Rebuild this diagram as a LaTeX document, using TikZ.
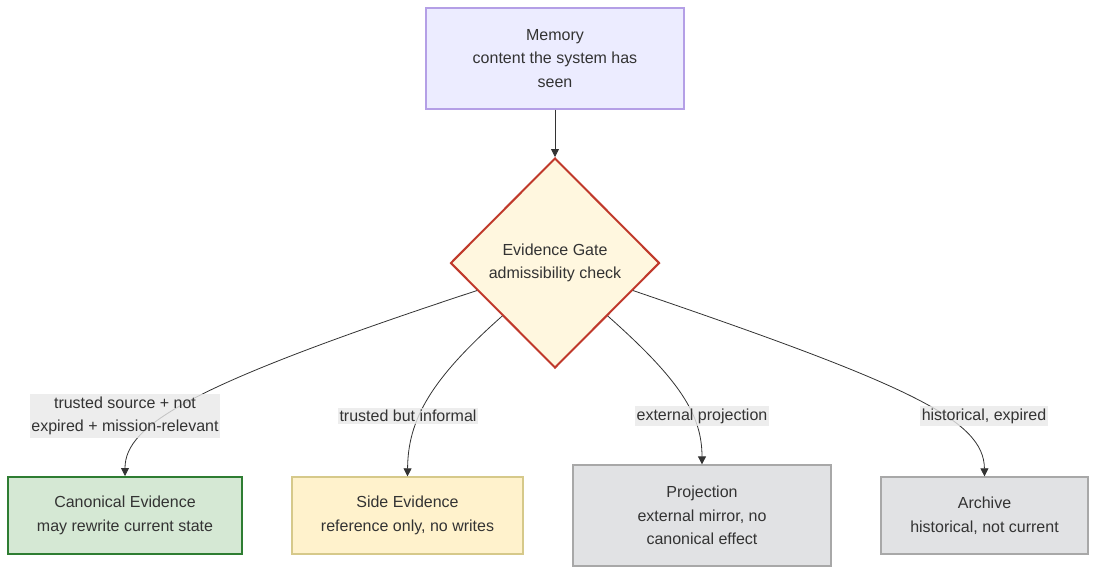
\documentclass[tikz,border=0pt]{standalone}
\usepackage{fontspec}
\setmainfont{Liberation Sans}
\usetikzlibrary{shapes.geometric,arrows.meta,calc}
\definecolor{txt}{HTML}{333333}
\definecolor{memfill}{HTML}{ECECFF}
\definecolor{memdraw}{HTML}{B49FE6}
\definecolor{gatefill}{HTML}{FFF7DF}
\definecolor{gatedraw}{HTML}{C0392B}
\definecolor{canfill}{HTML}{D5E8D4}
\definecolor{candraw}{HTML}{2E7D32}
\definecolor{sidefill}{HTML}{FFF2CC}
\definecolor{sidedraw}{HTML}{D6C98A}
\definecolor{greyfill}{HTML}{E1E2E4}
\definecolor{greydraw}{HTML}{A8A8A8}
\definecolor{lblfill}{HTML}{E8E8E8}
\tikzset{
  base/.style={font=\fontsize{16}{23.5}\selectfont, text=txt, align=center, inner sep=0pt},
  box/.style={base, rectangle, line width=1.3pt},
  gatestyle/.style={base, diamond, aspect=1, fill=gatefill, draw=gatedraw, line width=2pt, minimum width=209pt, minimum height=210pt},
  lbl/.style={base, fill=lblfill, fill opacity=0.8, text opacity=1, inner xsep=1.5pt, inner ysep=2.5pt},
  conn/.style={draw=txt, line width=0.8pt, -{Triangle[length=8pt,width=8pt]}},
}
\begin{document}
\begin{tikzpicture}[x=1pt,y=-1pt]
\useasboundingbox (0,0) rectangle (1104,579);
\node[box, fill=memfill, draw=memdraw, minimum width=258pt, minimum height=101pt] (mem) at (555,58.5) {Memory\\content the system has\\seen};
\node[gatestyle] (gate) at (555,263) {Evidence Gate\\admissibility check};
\node[box, fill=canfill, draw=candraw, line width=2pt, minimum width=234pt, minimum height=77pt] (can) at (125,515.5) {Canonical Evidence\\may rewrite current state};
\node[box, fill=sidefill, draw=sidedraw, minimum width=231pt, minimum height=77pt] (side) at (407.5,515.5) {Side Evidence\\reference only, no writes};
\node[box, fill=greyfill, draw=greydraw, minimum width=258pt, minimum height=101pt] (proj) at (702,515.5) {Projection\\external mirror, no\\ canonical effect};
\node[box, fill=greyfill, draw=greydraw, minimum width=207pt, minimum height=77pt] (arch) at (984.5,515.5) {Archive\\historical, not current};

\coordinate (g1) at ($(gate.west)!0.26!(gate.south)$);
\coordinate (g4) at ($(gate.east)!0.26!(gate.south)$);

\draw[conn] (mem.south) -- (gate.north);
\draw[conn] (g1) .. controls (190,385) and (125,425) .. (can.north);
\draw[conn] (gate.south west) .. controls (430,380) and (408,420) .. (side.north);
\draw[conn] (gate.south east) .. controls (680,380) and (702,415) .. (proj.north);
\draw[conn] (g4) .. controls (910,385) and (984,420) .. (arch.north);

\node[lbl] (l1) at (125,416) {trusted source + not\\expired + mission-relevant};
\node[lbl] (l2) at (408,416) {trusted but informal};
\node[lbl] (l3) at (702,416) {external projection};
\node[lbl] (l4) at (984,416) {historical, expired};
\end{tikzpicture}
\end{document}
